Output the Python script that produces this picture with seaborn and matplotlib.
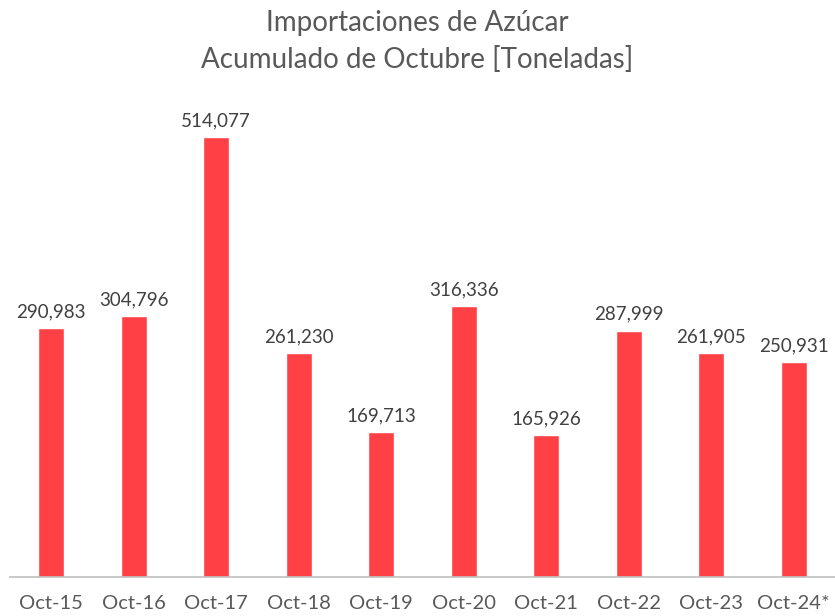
import seaborn as sns
from matplotlib import pyplot as plt
import pandas as pd

# Data
meses = ["Oct-15", "Oct-16", "Oct-17", "Oct-18", "Oct-19",
         "Oct-20", "Oct-21", "Oct-22", "Oct-23", "Oct-24*"]
toneladas = [290983, 304796, 514077, 261230, 169713,
             316336, 165926, 287999, 261905, 250931]

df = pd.DataFrame({"mes": meses, "toneladas": toneladas})

sns.set_theme(style="white")
plt.rcParams['font.family'] = ['Lato', 'DejaVu Sans']

fig = plt.figure(figsize=(8.35, 6.16), dpi=100)
ax = fig.add_axes([10 / 835, 39 / 616, 825 / 835, 497 / 616])

sns.barplot(data=df, x="mes", y="toneladas", color="#FF4045",
            width=0.32, saturation=1, ax=ax)

# value labels
for i, v in enumerate(toneladas):
    ax.text(i, v + 9000, f"{v:,}", ha="center", va="bottom",
            fontsize=13.5, color="#404040")

ax.set_xlim(-0.5, 9.5)
ax.set_ylim(0, 514077 * 497 / 440)
ax.set_yticks([])
ax.set_xlabel("")
ax.set_ylabel("")
ax.tick_params(axis="x", length=0, labelsize=14.5, labelcolor="#595959", pad=13)
for s in ["top", "right", "left"]:
    ax.spines[s].set_visible(False)
ax.spines["bottom"].set_color("#BFBFBF")
ax.spines["bottom"].set_linewidth(1.2)

fig.text(0.5, 1 - 23 / 616, "Importaciones de Azúcar", ha="center", va="center",
         fontsize=20, color="#595959")
fig.text(0.5, 1 - 59 / 616, "Acumulado de Octubre [Toneladas]", ha="center",
         va="center", fontsize=20, color="#595959")

plt.savefig("out.png", dpi=100)
